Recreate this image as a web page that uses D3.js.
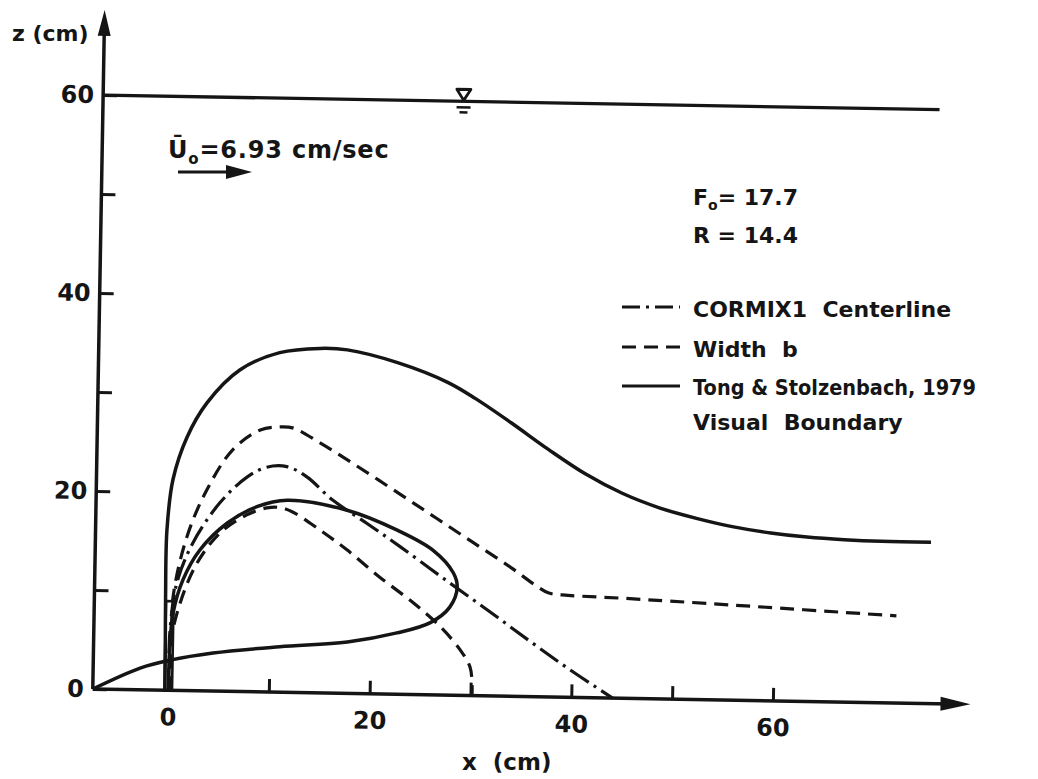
<!DOCTYPE html>
<html><head><meta charset="utf-8">
<script src="https://cdn.jsdelivr.net/npm/d3@7"></script>
<style>
body{margin:0;background:#fff}
svg{display:block}
text{font-family:"DejaVu Sans",sans-serif;font-weight:bold;fill:#151515}
</style></head>
<body><svg id="c" width="1038" height="779"></svg>
<script>
// ---- data (cm) ----
const xTicks = [0, 10, 20, 30, 40, 50, 60];
const xTickLabels = ["0", "", "20", "", "40", "", "60"];
const zTicks = [0, 10, 20, 30, 40, 50, 60];
const zTickLabels = ["0", "", "20", "", "40", "", "60"];

// Tong & Stolzenbach visual boundary (outer)
const outerBoundary = [[-0.3,0],[-0.35,5],[-0.4,9.4],[-0.38,16.2],[0.13,21.3],[1.45,25.6],[3.37,29.1],[6.6,32.5],[10.5,34.3],[14.5,34.8],[17.2,34.7],[22.2,33.5],[27.2,31.6],[30.0,30.0],[33.6,27.6],[37.3,25.0],[41.0,22.6],[44.7,20.7],[48.4,19.3],[52.1,18.3],[55.8,17.5],[59.5,16.95],[63.1,16.6],[66.8,16.4],[70.5,16.3],[75.4,16.3]];
// Tong & Stolzenbach visual boundary (inner loop)
const innerBoundary = [[-7.46,0],[-2.8,2.2],[0.15,3.05],[4.4,3.85],[11.0,4.6],[17.7,5.2],[22.6,6.2],[25.9,7.3],[27.8,8.9],[28.5,10.9],[28.1,12.35],[26.05,14.6],[22.4,16.6],[17.45,18.5],[11.5,19.4],[8.5,18.7],[5.6,17.0],[2.9,14.2],[1.3,11.2],[0.37,7.8],[0.1,4.3],[0.05,0]];
// CORMIX1 centerline
const centerline = [[0.05,0],[0.1,6.1],[0.7,10.9],[2.2,14.9],[4.8,19.0],[7.5,21.7],[9.4,22.7],[11.4,22.8],[13.4,21.8],[16.0,19.5],[19.45,17.2],[22.8,14.9],[27.1,11.8],[31.5,8.7],[35.8,5.6],[39.8,2.8],[44.1,0]];
// width b, upper and lower edges
const widthUpper = [[0.2,0],[0.3,5],[0.34,9.4],[1.6,15.5],[3.5,20.3],[6.0,24.4],[8.7,26.45],[10.65,26.8],[12.0,26.7],[14.65,25.25],[18.0,23.2],[22.7,20.2],[26.4,17.8],[30.1,15.4],[33.8,13.0],[36.2,11.3],[37.6,10.5],[39.5,10.3],[44.9,10.1],[55.9,9.6],[72.1,8.8]];
const widthLower = [[0.2,0],[0.13,4.4],[1.04,8.8],[2.66,12.9],[4.9,16.0],[7.5,17.85],[9.5,18.6],[10.8,18.65],[12.1,18.2],[14.8,16.45],[17.5,14.5],[20.8,11.8],[24.2,9.25],[26.9,6.9],[28.9,4.6],[29.9,2.9],[30.15,0.9],[30.15,0]];

const waterLevel = 60;
const waterExtent = [-7.46, 75.5];
const waterSymbolX = 28.3;
const axisExtentX = [-7.46, 79.6];
const axisExtentZ = [0, 68.6];

const legendLabels = ["CORMIX1  Centerline", "Width  b", "Tong & Stolzenbach, 1979"];
const legendDash = ["22,6,3,6", "14,8", null];

// ---- drawing ----
const svg = d3.select("#c");
svg.append("rect").attr("width",1038).attr("height",779).attr("fill","#fff");

const x = d3.scaleLinear().domain([0, 60]).range([75, 75 + 605]);
const z = d3.scaleLinear().domain([0, 60]).range([0, -594]);

const g = svg.append("g").attr("transform", "translate(93,689) rotate(1)");

const ink = "#151515";
const SW = 3.5;

// axes lines
g.append("line").attr("x1", x(axisExtentX[0])).attr("x2", x(axisExtentX[1]) - 20)
  .attr("y1", z(0)).attr("y2", z(0)).attr("stroke", ink).attr("stroke-width", SW);
g.append("path").attr("d", (() => { const p = d3.path(); const tx = x(axisExtentX[1]); p.moveTo(tx, 0); p.lineTo(tx - 30, -7); p.lineTo(tx - 30, 7); p.closePath(); return p.toString(); })()).attr("fill", ink);

g.append("line").attr("x1", x(axisExtentX[0])).attr("x2", x(axisExtentX[0]))
  .attr("y1", z(0)).attr("y2", z(axisExtentZ[1]) + 20).attr("stroke", ink).attr("stroke-width", SW);
g.append("path").attr("d", (() => { const p = d3.path(); const tz = z(axisExtentZ[1]); const ax = x(axisExtentX[0]); p.moveTo(ax, tz); p.lineTo(ax - 6.5, tz + 26); p.lineTo(ax + 6.5, tz + 26); p.closePath(); return p.toString(); })()).attr("fill", ink);

// x axis ticks
const xAxis = d3.axisBottom(x).tickValues(xTicks).tickFormat((d, i) => xTickLabels[i])
  .tickSizeInner(-13).tickSizeOuter(0).tickPadding(18);
const gx = g.append("g").call(xAxis);
gx.select(".domain").remove();
gx.selectAll("line").attr("stroke", ink).attr("stroke-width", 3);
gx.selectAll("text").attr("font-size", 24).attr("font-family", "DejaVu Sans").attr("font-weight", "bold").attr("fill", ink);

// z axis ticks
const zAxis = d3.axisLeft(z).tickValues(zTicks).tickFormat((d, i) => zTickLabels[i])
  .tickSizeInner(-14).tickSizeOuter(0).tickPadding(9);
const gz = g.append("g").attr("transform", `translate(${x(axisExtentX[0])},0)`).call(zAxis);
gz.select(".domain").remove();
gz.selectAll("line").attr("stroke", ink).attr("stroke-width", 3);
gz.selectAll("text").attr("font-size", 24).attr("font-family", "DejaVu Sans").attr("font-weight", "bold").attr("fill", ink);

// water surface
g.append("line").attr("x1", x(waterExtent[0])).attr("x2", x(waterExtent[1]))
  .attr("y1", z(waterLevel)).attr("y2", z(waterLevel)).attr("stroke", ink).attr("stroke-width", 3.3);
const wx = x(waterSymbolX), wz = z(waterLevel);
g.append("path").attr("d", `M${wx-7},${wz-12} L${wx+7},${wz-12} L${wx},${wz-1} Z`)
  .attr("fill", "none").attr("stroke", ink).attr("stroke-width", 2.8).attr("stroke-linejoin", "round");
g.append("line").attr("x1", wx-7).attr("x2", wx+7).attr("y1", wz+6).attr("y2", wz+6).attr("stroke", ink).attr("stroke-width", 2.6);
g.append("line").attr("x1", wx-4).attr("x2", wx+4).attr("y1", wz+11).attr("y2", wz+11).attr("stroke", ink).attr("stroke-width", 2.6);

// curves
const line = d3.line().x(d => x(d[0])).y(d => z(d[1])).curve(d3.curveCatmullRom.alpha(0.5));
function curve(data, dash, w) {
  const p = g.append("path").attr("d", line(data)).attr("fill", "none")
    .attr("stroke", ink).attr("stroke-width", w).attr("stroke-linecap", "butt").attr("stroke-linejoin", "round");
  if (dash) p.attr("stroke-dasharray", dash);
}
curve(widthUpper, legendDash[1], 3.2);
curve(widthLower, legendDash[1], 3.2);
curve(centerline, legendDash[0], 3.2);
curve(outerBoundary, null, SW);
curve(innerBoundary, null, SW);

// nozzle
g.append("rect").attr("x", x(-0.35)).attr("y", z(9)).attr("width", x(0.4) - x(-0.35)).attr("height", z(0) - z(9))
  .attr("fill", "none").attr("stroke", ink).attr("stroke-width", 2.6);

// axis titles
svg.append("text").attr("x", 12).attr("y", 41).attr("font-size", 22).text("z (cm)");
svg.append("text").attr("x", 462).attr("y", 770).attr("font-size", 23).style("white-space", "pre").text("x  (cm)");

// velocity annotation
const ut = svg.append("text").attr("x", 168).attr("y", 158).attr("font-size", 24).attr("letter-spacing", 0.8);
ut.append("tspan").text("Ū");
ut.append("tspan").attr("font-size", 15).attr("dy", 6).text("o");
ut.append("tspan").attr("dy", -6).text("=6.93 cm/sec");
svg.append("line").attr("x1", 178).attr("x2", 232).attr("y1", 172).attr("y2", 172).attr("stroke", ink).attr("stroke-width", 3);
svg.append("path").attr("d", "M252,172 L226,165 L226,179 Z").attr("fill", ink);

// parameters
const ft = svg.append("text").attr("x", 693).attr("y", 205).attr("font-size", 22);
ft.append("tspan").text("F");
ft.append("tspan").attr("font-size", 14).attr("dy", 5).text("o");
ft.append("tspan").attr("dy", -5).text("= 17.7");
svg.append("text").attr("x", 693).attr("y", 243).attr("font-size", 22).text("R = 14.4");

// legend
const legY = [307, 347, 386];
const legTextY = [317, 357, 395];
legendLabels.forEach((lab, i) => {
  const l = svg.append("line").attr("x1", 622).attr("x2", 680).attr("y1", legY[i]).attr("y2", legY[i])
    .attr("stroke", ink).attr("stroke-width", 3.2);
  if (legendDash[i]) l.attr("stroke-dasharray", i === 0 ? "18,6,3,6" : "14,8");
  const t = svg.append("text").attr("x", 693).attr("y", legTextY[i]).attr("font-size", 22)
    .style("white-space", "pre").text(lab);
  if (i === 2) t.attr("textLength", 283).attr("lengthAdjust", "spacingAndGlyphs");
});
svg.append("text").attr("x", 693).attr("y", 430).attr("font-size", 22).style("white-space", "pre").text("Visual  Boundary");
</script></body></html>
